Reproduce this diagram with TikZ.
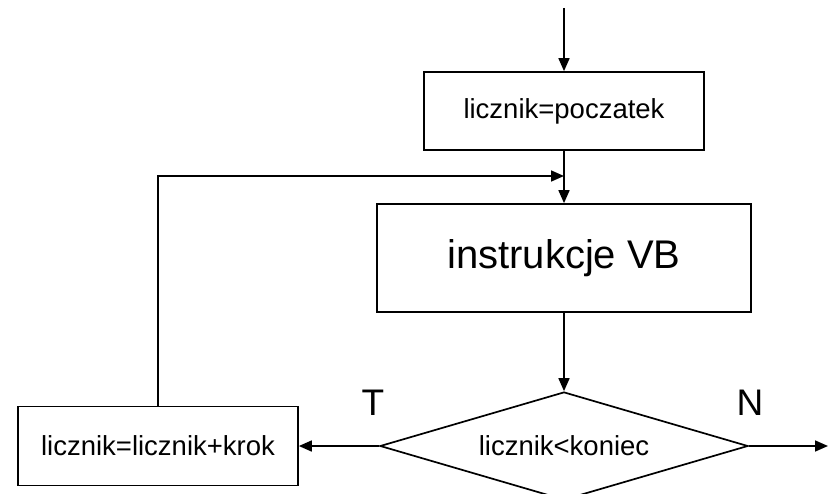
\documentclass[tikz,border=0pt]{standalone}
\usepackage{fontspec}
\setmainfont{Liberation Sans}
\usetikzlibrary{arrows.meta,shapes.geometric}
\begin{document}
\begin{tikzpicture}[x=1pt,y=-1pt,
  line width=1.7pt,
  flow/.style={-{Triangle[length=13pt,width=11pt]}},
  procbox/.style={draw, rectangle, inner sep=0pt, font=\fontsize{27.5}{30}\selectfont},
  decbox/.style={draw, diamond, aspect=3.4, inner sep=0pt, minimum width=368pt, minimum height=108pt, font=\fontsize{27.5}{30}\selectfont},
  lbl/.style={font=\fontsize{37}{40}\selectfont}]
\useasboundingbox (0,0) rectangle (832,494);
\node[procbox, minimum width=280pt, minimum height=78pt] (start) at (564,111) {licznik=poczatek};
\node[procbox, minimum width=374pt, minimum height=108pt, font=\fontsize{40}{44}\selectfont] (body) at (564,258) {instrukcje VB};
\node[decbox] (cond) at (564,446) {licznik<koniec};
\node[procbox, minimum width=280pt, minimum height=79pt] (incr) at (158,446) {licznik=licznik+krok};
\coordinate (in) at (564,8);
\coordinate (join) at (564,176);
\coordinate (out) at (828,446);
\node[lbl] (T) at (373,403) {T};
\node[lbl] (N) at (750,403) {N};
\draw[flow] (in) -- (start.north);
\draw[flow] (start.south) -- (body.north);
\draw[flow] (body.south) -- (cond.north);
\draw[flow] (cond.west) -- (incr.east);
\draw[flow] (cond.east) -- (out);
\draw[flow] (incr.north) |- (join);
\end{tikzpicture}
\end{document}
